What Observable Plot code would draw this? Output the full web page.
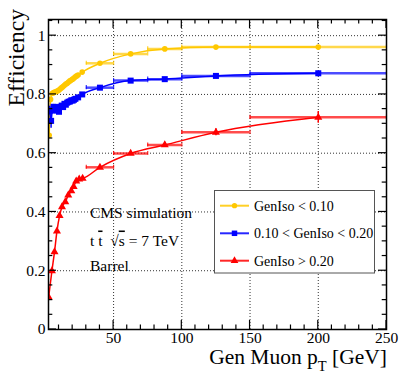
<!DOCTYPE html>
<html><head><meta charset="utf-8">
<script src="https://cdn.jsdelivr.net/npm/d3@7"></script>
<script src="https://cdn.jsdelivr.net/npm/@observablehq/plot@0.6"></script>
<style>body{margin:0;background:#fff} svg{display:block} #chart svg, #chart svg text, #chart svg tspan{font-family:'Liberation Serif','Times New Roman',serif !important}</style>
</head><body><div id="chart"></div>
<script>
// ---- data ----
const binEdges = [30, 50, 75, 100, 150, 250];
const highPt = [40, 62.5, 87.5, 125, 200];

const yellowLowPt = [2.8, 3.8, 5, 6, 7, 8, 9, 10, 11, 12, 13, 14, 15, 16, 17, 18, 19, 20, 21, 22, 23, 24, 27];
const yellowLowEff = [0.661, 0.783, 0.803, 0.806, 0.808, 0.810, 0.812, 0.815, 0.819, 0.823, 0.827, 0.831, 0.835, 0.838, 0.842, 0.846, 0.849, 0.852, 0.856, 0.860, 0.863, 0.866, 0.876];
const yellowHighEff = [0.906, 0.938, 0.955, 0.961, 0.961];
const yellowHighErr = [0.004, 0.003, 0.003, 0.003, 0.003];

const blueLowPt = [3.2, 4.2, 5, 6, 7, 8, 9, 10, 11, 12, 13, 14, 15, 16, 17, 18, 19, 20, 21, 22, 24, 27];
const blueLowEff = [0.745, 0.71, 0.745, 0.758, 0.752, 0.757, 0.745, 0.741, 0.758, 0.762, 0.757, 0.768, 0.765, 0.772, 0.775, 0.776, 0.780, 0.779, 0.782, 0.785, 0.790, 0.800];
const blueLowErr = [0.015, 0.025, 0.01, 0.008, 0.008, 0.008, 0.008, 0.008, 0.006, 0.006, 0.006, 0.006, 0.006, 0.006, 0.006, 0.006, 0.006, 0.006, 0.006, 0.006, 0.005, 0.005];
const blueHighEff = [0.823, 0.847, 0.852, 0.863, 0.872];
const blueHighErr = [0.005, 0.005, 0.005, 0.005, 0.006];

const redLowPt = [2.4, 4.8, 6.7, 8.5, 10.4, 12.2, 14.6, 16.8, 19, 20.7, 22.6, 24.8, 27.3];
const redLowEff = [0.11, 0.199, 0.264, 0.335, 0.387, 0.417, 0.434, 0.457, 0.472, 0.486, 0.505, 0.512, 0.514];
const redHighEff = [0.552, 0.599, 0.628, 0.671, 0.722];
const redHighErr = [0.006, 0.007, 0.009, 0.012, 0.02];

const seriesNames = ["GenIso < 0.10", "0.10 < GenIso < 0.20", "GenIso > 0.20"];
const seriesColors = ["#ffc800", "#0000ff", "#ff0000"];
const seriesSymbols = ["circle", "square", "triangle"];

const xTicks = [50, 100, 150, 200, 250];
const xMinorTicks = [10, 20, 30, 40, 60, 70, 80, 90, 110, 120, 130, 140, 160, 170, 180, 190, 210, 220, 230, 240];
const yTicks = [0, 0.2, 0.4, 0.6, 0.8, 1];
const yMinorTicks = [0.05, 0.1, 0.15, 0.25, 0.3, 0.35, 0.45, 0.5, 0.55, 0.65, 0.7, 0.75, 0.85, 0.9, 0.95, 1.05];

const xTitle = "Gen Muon p";
const xTitleSub = "T";
const xTitleTail = " [GeV]";
const yTitle = "Efficiency";
const notes = ["CMS simulation", "Barrel"];

// ---- build rows ----
function build(s, lowPt, lowEff, lowErr, highEff, highErr) {
  const rows = lowPt.map((p, i) => ({s, pt: p, eff: lowEff[i], err: lowErr ? lowErr[i] : 0, lo: null, hi: null}));
  highPt.forEach((p, i) => rows.push({s, pt: p, eff: highEff[i], err: highErr[i], lo: binEdges[i], hi: binEdges[i + 1]}));
  return rows;
}
const series = [
  build(0, yellowLowPt, yellowLowEff, null, yellowHighEff, yellowHighErr),
  build(1, blueLowPt, blueLowEff, blueLowErr, blueHighEff, blueHighErr),
  build(2, redLowPt, redLowEff, null, redHighEff, redHighErr)
];

const marks = [
  Plot.gridX(xTicks.slice(0, 4), {stroke: "#333", strokeOpacity: 1, strokeDasharray: "1,2", strokeWidth: 1}),
  Plot.gridY(yTicks.slice(1), {stroke: "#333", strokeOpacity: 1, strokeDasharray: "1,2", strokeWidth: 1})
];
series.forEach((rows, s) => {
  const c = seriesColors[s];
  const binned = rows.filter(d => d.lo != null);
  marks.push(
    Plot.ruleY(binned, {y: "eff", x1: "lo", x2: "hi", stroke: c, strokeWidth: 2.5, strokeOpacity: 0.7}),
    Plot.ruleX(binned, {x: "lo", y1: d => d.eff - 0.007, y2: d => d.eff + 0.007, stroke: c, strokeWidth: 1.2, strokeOpacity: 0.8}),
    Plot.ruleX(binned, {x: "hi", y1: d => d.eff - 0.007, y2: d => d.eff + 0.007, stroke: c, strokeWidth: 1.2, strokeOpacity: 0.8, clip: true}),
    Plot.ruleX(rows.filter(d => d.err > 0.004), {x: "pt", y1: d => d.eff - d.err, y2: d => d.eff + d.err, stroke: c, strokeWidth: 1.5}),
    Plot.line(rows, {x: "pt", y: "eff", stroke: c, strokeWidth: 1.5, curve: "monotone-x", clip: true}),
    Plot.dot(rows, {x: "pt", y: "eff", symbol: seriesSymbols[s], r: s === 0 ? 2.8 : (s === 1 ? 3.4 : 3.0), fill: c, stroke: "none", clip: true})
  );
});
marks.push(Plot.frame({stroke: "black", strokeWidth: 1.5}));

const chart = Plot.plot({
  width: 407, height: 392,
  marginLeft: 48, marginRight: 21, marginTop: 19, marginBottom: 63,
  style: {fontFamily: "'Liberation Serif', 'Times New Roman', serif", fontSize: "15.5px", background: "#fff", color: "#000"},
  x: {domain: [2.3, 250], ticks: xTicks, tickSize: 0, tickPadding: 2, label: null},
  y: {domain: [0, 1.055], ticks: yTicks, tickSize: 0, tickPadding: 3, label: null, tickFormat: d => String(d)},
  marks
});
document.getElementById("chart").appendChild(chart);

// ---- inner ticks, titles, legend, notes ----
const svg = d3.select(chart);
const xs = chart.scale("x"), ys = chart.scale("y");
const X = v => xs.apply(v), Y = v => ys.apply(v);
const x0 = X(2.3), x1 = X(250), y0 = Y(0), y1 = Y(1.055);
const tg = svg.append("g").attr("stroke", "black").attr("stroke-width", 1.2);
function xTick(v, len) {
  tg.append("line").attr("x1", X(v)).attr("x2", X(v)).attr("y1", y0).attr("y2", y0 - len);
  tg.append("line").attr("x1", X(v)).attr("x2", X(v)).attr("y1", y1).attr("y2", y1 + len);
}
function yTick(v, len) {
  tg.append("line").attr("y1", Y(v)).attr("y2", Y(v)).attr("x1", x0).attr("x2", x0 + len);
  tg.append("line").attr("y1", Y(v)).attr("y2", Y(v)).attr("x1", x1).attr("x2", x1 - len);
}
xTicks.forEach(v => xTick(v, 9));
xMinorTicks.forEach(v => xTick(v, 4.5));
yTicks.forEach(v => yTick(v, 8));
yMinorTicks.forEach(v => yTick(v, 4.3));

const font = "'Liberation Serif', 'Times New Roman', serif";
const xt = svg.append("text").attr("x", x1 + 1).attr("y", 363.5).attr("text-anchor", "end")
  .attr("font-family", font).attr("font-size", 21.5).attr("fill", "black");
xt.append("tspan").text(xTitle);
xt.append("tspan").attr("dy", 7).attr("font-size", 14.5).text(xTitleSub);
xt.append("tspan").attr("dy", -7).text(xTitleTail);

svg.append("text").attr("transform", `translate(23.5,${y1 - 10}) rotate(-90)`).attr("text-anchor", "end")
  .attr("font-family", font).attr("font-size", 23.5).attr("fill", "black").text(yTitle);

// notes
const ng = svg.append("g").attr("font-family", font).attr("font-size", 15.5).attr("fill", "black").attr("text-anchor", "start");
ng.append("text").attr("x", 90).attr("y", 218).text(notes[0]);
const t2 = ng.append("text").attr("x", 90).attr("y", 245.5).attr("xml:space", "preserve");
t2.append("tspan").text("t ");
t2.append("tspan").style("text-decoration", "overline").text("t");
t2.append("tspan").text("  \u221A");
t2.append("tspan").style("text-decoration", "overline").text("s");
t2.append("tspan").text(" = 7 TeV");
ng.append("text").attr("x", 90).attr("y", 270.5).text(notes[1]);

// legend
const lg = svg.append("g").attr("text-anchor", "start");
lg.append("rect").attr("x", 214.5).attr("y", 190.5).attr("width", 160).attr("height", 82.5)
  .attr("fill", "white").attr("stroke", "#555").attr("stroke-width", 1);
const rowY = [205.7, 233.3, 260.7];
seriesNames.forEach((name, i) => {
  const c = seriesColors[i];
  lg.append("line").attr("x1", 220).attr("x2", 249).attr("y1", rowY[i]).attr("y2", rowY[i])
    .attr("stroke", c).attr("stroke-width", 2).attr("stroke-opacity", 0.85);
  const sym = d3.symbol().type(i === 0 ? d3.symbolCircle : (i === 1 ? d3.symbolSquare : d3.symbolTriangle))
    .size(i === 0 ? 22 : (i === 1 ? 30 : 26));
  lg.append("path").attr("d", sym()).attr("transform", `translate(234.5,${rowY[i]})`).attr("fill", c);
  lg.append("text").attr("x", 254).attr("y", rowY[i] + 5).attr("font-family", font).attr("font-size", 14)
    .attr("fill", "black").text(name);
});
</script>
</body></html>
